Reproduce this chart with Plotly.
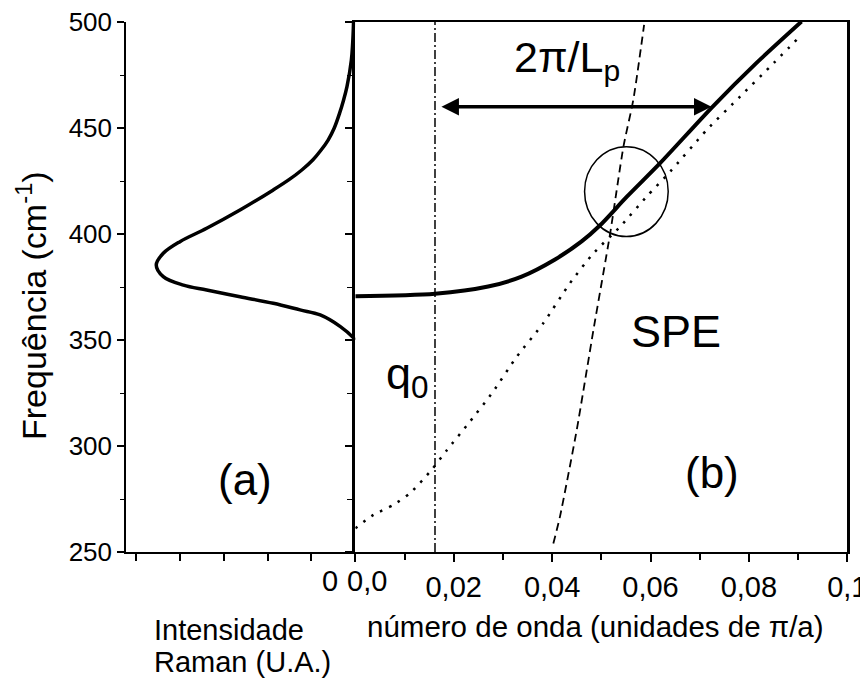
import plotly.graph_objects as go

# ---------------- data ----------------
# (a) Raman line shape: frequency (cm-1) vs intensity (arb. units)
raman_freq = [350.0, 351.0, 356.3, 361.8, 364.2, 367.3, 370.4, 373.6, 375.9, 379.9, 385.4,
              390.9, 396.4, 402.7, 411.3, 420.8, 425.5, 430.2, 434.9, 439.6, 444.3, 450.0,
              456.9, 463.0, 469.5, 482.0, 490.0, 500.0]
raman_int = [0.0, 0.04, 0.34, 0.80, 1.26, 1.87, 2.63, 3.39, 3.92, 4.38, 4.54,
             4.38, 4.00, 3.39, 2.63, 1.87, 1.52, 1.22, 0.97, 0.78, 0.62, 0.48,
             0.36, 0.27, 0.19, 0.09, 0.06, 0.04]

# (b) coupled mode dispersion (thick solid)
mode_q = [0.0, 0.0162, 0.0270, 0.0338, 0.0406, 0.0460, 0.0497, 0.0552, 0.0619, 0.0726, 0.0815, 0.0907]
mode_w = [370.6, 371.8, 375.2, 379.9, 388.0, 396.5, 404.0, 417.6, 433.3, 460.0, 480.6, 500.2]

# (b) uncoupled dispersion (dotted)
dot_q = [0.0, 0.0037, 0.0077, 0.0111, 0.0155, 0.0186, 0.0233, 0.0280, 0.0328, 0.0382,
         0.0436, 0.0484, 0.0538, 0.0592, 0.0640, 0.0714, 0.0782, 0.0843, 0.0900]
dot_w = [261.2, 267.5, 272.2, 277.7, 288.7, 298.0, 311.5, 325.6, 342.1, 357.9,
         376.7, 390.9, 403.4, 417.6, 429.4, 449.0, 464.8, 478.9, 492.3]

# (b) single-particle excitation edge (dashed)
spe_q = [0.04025, 0.0416, 0.0450, 0.0484, 0.0518, 0.0545, 0.0565, 0.0587]
spe_w = [254.0, 266.7, 307.5, 354.7, 400.3, 441.2, 463.2, 498.6]

# (b) q0 marker and 2pi/Lp interval
q0 = 0.0162
span_q = [0.0172, 0.0724]
span_w = 460.0

# crossing region highlighted with a circle
ring_q, ring_w = 0.0551, 420.0
ring_dq, ring_dw = 0.0085, 21.2

# axes
freq_ticks = [250, 300, 350, 400, 450, 500]
freq_minor = [275, 325, 375, 425, 475]
int_ticks = [0, 1, 2, 3, 4, 5]
q_ticks = [0.0, 0.02, 0.04, 0.06, 0.08, 0.1]
q_labels = ["", "0,02", "0,04", "0,06", "0,08", "0,1"]
q_minor = [0.01, 0.03, 0.05, 0.07, 0.09]

# ---------------- layout geometry ----------------
W, H = 860, 682
def px(x):
    return x / W
def py(y):
    return 1 - y / H

dom_y = [py(552), py(22)]
dom_xa = [px(126), px(355.3)]
dom_xb = [px(355.3), px(847.3)]

FONT = "Liberation Sans, Arial, sans-serif"
BLACK = "#000000"

fig = go.Figure()

fig.add_trace(go.Scatter(x=raman_int, y=raman_freq, xaxis="x", yaxis="y", mode="lines",
                         line=dict(color=BLACK, width=3.5, shape="spline", smoothing=1.0),
                         hoverinfo="skip"))

fig.add_trace(go.Scatter(x=dot_q, y=dot_w, xaxis="x2", yaxis="y2", mode="lines",
                         line=dict(color=BLACK, width=2.5, dash="2.5px,7.5px", shape="spline", smoothing=0.6),
                         hoverinfo="skip"))
fig.add_trace(go.Scatter(x=spe_q, y=spe_w, xaxis="x2", yaxis="y2", mode="lines",
                         line=dict(color=BLACK, width=1.8, dash="8px,5px", shape="spline", smoothing=0.6),
                         hoverinfo="skip"))
fig.add_trace(go.Scatter(x=[q0, q0], y=[250, 500], xaxis="x2", yaxis="y2", mode="lines",
                         line=dict(color=BLACK, width=1.5, dash="9px,3px,2px,3px"),
                         hoverinfo="skip"))
fig.add_trace(go.Scatter(x=mode_q, y=mode_w, xaxis="x2", yaxis="y2", mode="lines",
                         line=dict(color=BLACK, width=4, shape="spline", smoothing=0.8),
                         hoverinfo="skip"))

tick_font = dict(family=FONT, size=29, color=BLACK)

fig.update_layout(
    width=W, height=H,
    margin=dict(l=0, r=0, t=0, b=0),
    paper_bgcolor="white", plot_bgcolor="white",
    showlegend=False,
    font=dict(family=FONT, color=BLACK),
    xaxis=dict(domain=dom_xa, anchor="y", range=[5.23, 0], tickmode="array",
               tickvals=int_ticks, ticktext=[""] * len(int_ticks),
               ticks="outside", ticklen=7, tickwidth=1.5, tickcolor=BLACK,
               showline=True, linewidth=1.5, linecolor=BLACK,
               showgrid=False, zeroline=False, automargin=False),
    xaxis3=dict(overlaying="x", side="top", anchor="y", range=[5.23, 0], tickmode="array",
                tickvals=int_ticks[1:], showticklabels=False,
                ticks="inside", ticklen=4, tickwidth=1.2, tickcolor=BLACK,
                showline=True, linewidth=1.5, linecolor=BLACK,
                showgrid=False, zeroline=False, automargin=False),
    yaxis=dict(domain=dom_y, anchor="x", range=[250, 500], tickmode="array",
               tickvals=freq_ticks, ticktext=[str(v) for v in freq_ticks],
               tickfont=dict(family=FONT, size=26, color=BLACK),
               ticks="outside", ticklen=7, tickwidth=1.5, tickcolor=BLACK,
               minor=dict(tickvals=freq_minor, ticks="outside", ticklen=4, tickwidth=1.2, tickcolor=BLACK),
               showline=True, linewidth=1.5, linecolor=BLACK,
               showgrid=False, zeroline=False, automargin=False),
    xaxis2=dict(domain=dom_xb, anchor="y2", range=[0, 0.1], tickmode="array",
                tickvals=q_ticks, ticktext=q_labels, tickfont=tick_font,
                ticklabeloverflow="allow",
                ticks="outside", ticklen=8, tickwidth=1.8, tickcolor=BLACK,
                minor=dict(tickvals=q_minor, ticks="outside", ticklen=6, tickwidth=1.5, tickcolor=BLACK),
                showline=True, linewidth=2, linecolor=BLACK, mirror=True,
                showgrid=False, zeroline=False, automargin=False),
    yaxis2=dict(domain=dom_y, anchor="x2", range=[250, 500], tickmode="array",
                tickvals=freq_ticks, showticklabels=False,
                ticks="outside", ticklen=8, tickwidth=1.5, tickcolor=BLACK,
                minor=dict(tickvals=freq_minor, ticks="outside", ticklen=6, tickwidth=1.2, tickcolor=BLACK),
                showline=True, linewidth=2.5, linecolor=BLACK, mirror=True,
                showgrid=False, zeroline=False, automargin=False),
)

# crossing circle
fig.add_shape(type="circle", xref="x2", yref="y2",
              x0=ring_q - ring_dq, x1=ring_q + ring_dq,
              y0=ring_w - ring_dw, y1=ring_w + ring_dw,
              line=dict(color=BLACK, width=1.5))

ann = []
# 2pi/Lp double arrow
ann.append(dict(xref="x2", yref="y2", axref="x2", ayref="y2",
                x=span_q[1], y=span_w, ax=span_q[0], ay=span_w,
                text="", showarrow=True, arrowside="end+start",
                arrowhead=2, arrowsize=1.0, arrowwidth=3.5, arrowcolor=BLACK))

def label(text, x, y, size, xref="paper", yref="paper", **kw):
    d = dict(text=text, x=x, y=y, xref=xref, yref=yref, showarrow=False,
             font=dict(family=FONT, size=size, color=BLACK),
             xanchor=kw.pop("xanchor", "center"), yanchor=kw.pop("yanchor", "middle"))
    d.update(kw)
    ann.append(d)

label("2π/L<sub>p</sub>", 0.043, 482, 43, xref="x2", yref="y2")
label("SPE", 0.0651, 353.8, 45, xref="x2", yref="y2")
label("q<sub>0</sub>", 0.0107, 332.7, 45, xref="x2", yref="y2")
label("(b)", 0.0725, 287.4, 44, xref="x2", yref="y2")
label("(a)", 2.51, 284.4, 44, xref="x", yref="y")

# tick labels next to the panel junction
label("0", px(330), py(581), 29)
label("0,0", px(367), py(581), 29)

# axis titles
label("Frequência (cm<sup>-1</sup>)", px(31), py(306), 34, textangle=-90)
label("número de onda (unidades de π/a)", px(595), py(626), 29.5)
label("Intensidade", px(152), py(630), 29, xanchor="left")
label("Raman (U.A.)", px(152), py(662), 29, xanchor="left")

fig.update_layout(annotations=ann)

fig.write_html("out.html")
